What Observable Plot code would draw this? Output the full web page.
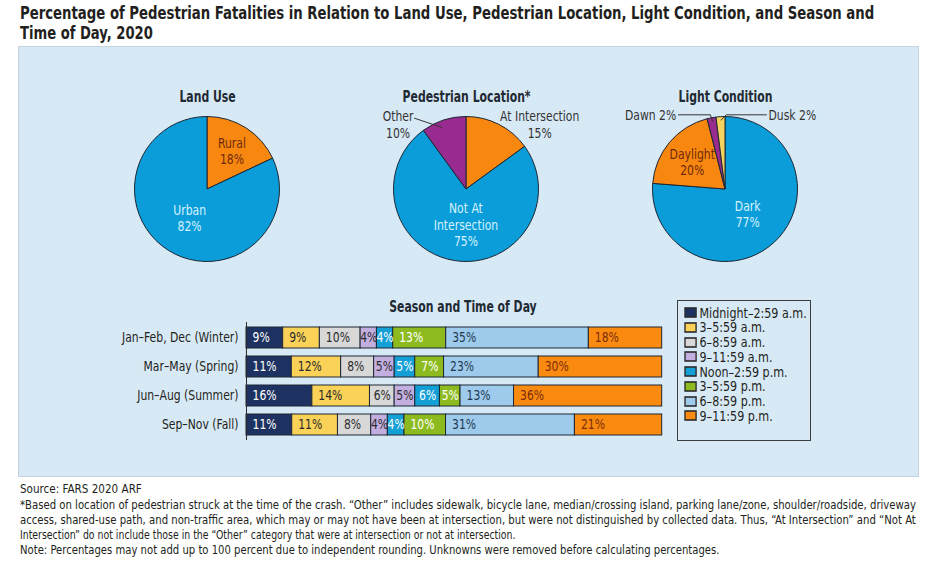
<!DOCTYPE html>
<html><head><meta charset="utf-8">
<script src="https://cdn.jsdelivr.net/npm/d3@7"></script>
<script src="https://cdn.jsdelivr.net/npm/@observablehq/plot@0.6"></script>
<style>
html,body{margin:0;padding:0;background:#fff}
body{position:relative;width:930px;height:572px;overflow:hidden;font-family:"Liberation Sans Narrow","Arial Narrow","DejaVu Sans Condensed",sans-serif;color:#231f20}
.abs{position:absolute}
#panel{left:18px;top:46px;width:899px;height:429px;background:#d8e9f6;border:1px solid #c4d3df}
#bartitle{left:363px;top:298px;width:200px;text-align:center;font-size:15.5px;font-weight:bold;line-height:18px;color:#1f2a33;transform:scaleX(0.78);transform-origin:center}
#legendbox{left:676.5px;top:300px;width:132px;height:139px;border:1px solid #3b3b3b;background:#d8e9f6}
#legend{position:absolute;left:7.5px;top:4.3px;transform:scaleX(0.853);transform-origin:0 0}
#legend > div{font-family:inherit !important;font-size:14.5px !important;color:#231f20 !important;margin:0 !important;}
#legend > div > div{height:14.76px;padding:0 !important;margin:0 !important;display:flex;align-items:center;white-space:nowrap}
#legend svg{margin-right:4px !important;flex-shrink:0}
#legend svg rect{stroke:#2a2a2a;stroke-width:1.6px}
svg.txt text{fill:#231f20}
</style>
</head><body>
<svg class="abs txt" style="left:0;top:0" width="930" height="46">
<text class="fit" data-x="20" data-y="19" data-w="855" font-size="18" font-weight="bold">Percentage of Pedestrian Fatalities in Relation to Land Use, Pedestrian Location, Light Condition, and Season and</text>
<text class="fit" data-x="20" data-y="39" data-w="133" font-size="18" font-weight="bold">Time of Day, 2020</text>
</svg>
<div id="panel" class="abs"></div>
<div id="pie1" class="abs" style="left:77.5px;top:74px"></div>
<div id="pie2" class="abs" style="left:336.5px;top:74px"></div>
<div id="pie3" class="abs" style="left:596.3px;top:74px"></div>
<div id="bartitle" class="abs">Season and Time of Day</div>
<div id="bars" class="abs" style="left:100px;top:295px"></div>
<div id="legendbox" class="abs"><div id="legend"></div></div>
<svg class="abs txt" style="left:0;top:470px" width="930" height="102" font-size="13">
<text class="fit" data-x="20" data-y="22.6" data-w="122">Source: FARS 2020 ARF</text>
<text class="fit" data-x="20" data-y="39" data-w="897">*Based on location of pedestrian struck at the time of the crash. “Other” includes sidewalk, bicycle lane, median/crossing island, parking lane/zone, shoulder/roadside, driveway</text>
<text class="fit" data-x="20" data-y="54" data-w="897">access, shared-use path, and non-traffic area, which may or may not have been at intersection, but were not distinguished by collected data. Thus, “At Intersection” and “Not At</text>
<text class="fit" data-x="20" data-y="69" data-w="496">Intersection” do not include those in the “Other” category that were at intersection or not at intersection.</text>
<text class="fit" data-x="20" data-y="84" data-w="700">Note: Percentages may not add up to 100 percent due to independent rounding. Unknowns were removed before calculating percentages.</text>
</svg>
<script>
// ---------- DATA ----------
const landCats = ["Rural", "Urban"];
const landVals = [18, 82];
const locCats = ["At Intersection", "Not At Intersection", "Other"];
const locVals = [15, 75, 10];
const lightCats = ["Dark", "Daylight", "Dawn", "Dusk"];
const lightVals = [77, 20, 2, 2];

const seasons = ["Jan–Feb, Dec (Winter)", "Mar–May (Spring)", "Jun–Aug (Summer)", "Sep–Nov (Fall)"];
const timeSlots = ["Midnight–2:59 a.m.", "3–5:59 a.m.", "6–8:59 a.m.", "9–11:59 a.m.", "Noon–2:59 p.m.", "3–5:59 p.m.", "6–8:59 p.m.", "9–11:59 p.m."];
const winterVals = [9, 9, 10, 4, 4, 13, 35, 18];
const springVals = [11, 12, 8, 5, 5, 7, 23, 30];
const summerVals = [16, 14, 6, 5, 6, 5, 13, 36];
const fallVals = [11, 11, 8, 4, 4, 10, 31, 21];

// ---------- STYLE ----------
const FONT = '"Liberation Sans Narrow","Arial Narrow","DejaVu Sans Condensed",sans-serif';
const PIE_BLUE = "#0b9dd9", PIE_ORANGE = "#f8870f", PIE_PURPLE = "#982a90", PIE_YELLOW = "#f6d35e";
const DARK_IN = "#6f2a0c", LIGHT_IN = "#d4f2ff", OUT = "#333333";
const slotColors = ["#1e3262", "#fbd258", "#d8d8d8", "#c3aee0", "#14a0d6", "#8dbb1f", "#9ecbec", "#fb8a10"];
const slotText = ["#ffffff", "#2b2b2b", "#2b2b2b", "#2b2b2b", "#ffffff", "#ffffff", "#233a52", "#7a2e0a"];
const baseStyle = {background: "transparent", fontFamily: FONT, fontSize: "14px", color: "#231f20", overflow: "visible"};
const NARROW = 0.86, NARROW_BOLD = 0.78;

// fit static lines (title, notes) to the reference widths by horizontal scaling
document.querySelectorAll("text.fit").forEach(t => {
  const n = t.getComputedTextLength();
  const s = (+t.dataset.w) / n;
  t.setAttribute("transform", `translate(${t.dataset.x},${t.dataset.y}) scale(${s},1)`);
});

// horizontally condense each text about its own anchor (the installed condensed face is wider than the original)
function condense(root) {
  root.querySelectorAll("text").forEach(t => {
    const b = t.getBBox();
    const cs = getComputedStyle(t);
    const f = (parseInt(cs.fontWeight) >= 600 || cs.fontWeight === "bold") ? NARROW_BOLD : NARROW;
    const anc = cs.textAnchor;
    const ax = anc === "middle" ? b.x + b.width / 2 : anc === "end" ? b.x + b.width : b.x;
    const tr = t.getAttribute("transform") || "";
    t.setAttribute("transform", `${tr} translate(${ax},0) scale(${f},1) translate(${-ax},0)`);
  });
}

// ---------- PIES ----------
function pieChart({title, cats, vals, colors, labels, leaders = []}) {
  const W = 258, H = 230, K = 72.5;
  const arcs = d3.pie().sort(null).value(d => d)(vals);
  const mid = a => (a.startAngle + a.endAngle) / 2;
  const polar = (ang, f) => ({x: f * Math.sin(ang), y: f * Math.cos(ang)});
  const slices = (index, scales, values, dim) => {
    const cx = scales.x ? scales.x(0) : dim.width / 2;
    const cy = scales.y ? scales.y(0) : dim.height / 2;
    const r = scales.x ? Math.abs(scales.x(1) - scales.x(0)) : K;
    const arc = d3.arc().innerRadius(0).outerRadius(r);
    const g = d3.create("svg:g").attr("transform", `translate(${cx},${cy})`);
    g.selectAll("path").data(arcs).join("path")
      .attr("d", arc).attr("fill", (d, i) => colors[i])
      .attr("stroke", "#1c2733").attr("stroke-width", 1).attr("stroke-linejoin", "round");
    return g.node();
  };
  const texts = labels.map(L => {
    const p = L.frac != null ? polar(mid(arcs[L.i]), L.frac) : L.at;
    return Plot.text([{x: p.x, y: p.y, t: L.fmt(cats[L.i], vals[L.i])}], {
      x: "x", y: "y", text: "t", fill: L.fill, textAnchor: L.anchor || "middle",
      dx: L.dx || 0, fontSize: 14, lineHeight: 1.17
    });
  });
  const leaderPts = leaders.flatMap((Ld, k) => {
    const a = arcs[Ld.i];
    const p = polar(a.startAngle + Ld.t * (a.endAngle - a.startAngle), Ld.frac);
    const pts = [{x: Ld.from.x, y: Ld.from.y}];
    if (Ld.elbow != null) pts.push({x: p.x + Ld.elbow, y: Ld.from.y});
    pts.push(p);
    return pts.map(q => ({...q, k}));
  });
  return Plot.plot({
    width: W, height: H, margin: 0,
    x: {domain: [-W / 2 / K, W / 2 / K], axis: null},
    y: {domain: [-H / 2 / K, H / 2 / K], axis: null},
    style: baseStyle,
    marks: [
      slices,
      ...texts,
      Plot.line(leaderPts, {x: "x", y: "y", z: "k", stroke: OUT, strokeWidth: 1}),
      Plot.text([title], {text: d => d, frameAnchor: "top", dy: 16, fontWeight: "bold", fontSize: 15.5, fill: "#1f2a33"})
    ]
  });
}
const twoLine = (c, v) => `${c}\n${v}%`;

const pies = [
  ["pie1", {
    title: "Land Use", cats: landCats, vals: landVals, colors: [PIE_ORANGE, PIE_BLUE],
    labels: [
      {i: 0, frac: 0.63, fmt: twoLine, fill: DARK_IN},
      {i: 1, frac: 0.46, fmt: twoLine, fill: LIGHT_IN}
    ]
  }],
  ["pie2", {
    title: "Pedestrian Location*", cats: locCats, vals: locVals, colors: [PIE_ORANGE, PIE_BLUE, PIE_PURPLE],
    labels: [
      {i: 0, at: {x: 1.01, y: 0.899}, fmt: twoLine, fill: OUT},
      {i: 1, frac: 0.49, dx: 5, fmt: (c, v) => `${c.replace(" Intersection", "\nIntersection")}\n${v}%`, fill: LIGHT_IN},
      {i: 2, at: {x: -0.945, y: 0.899}, fmt: twoLine, fill: OUT}
    ],
    leaders: [{i: 2, t: 0.4, frac: 0.92, from: {x: -0.717, y: 0.983}}]
  }],
  ["pie3", {
    title: "Light Condition", cats: lightCats, vals: lightVals, colors: [PIE_BLUE, PIE_ORANGE, PIE_PURPLE, PIE_YELLOW],
    labels: [
      {i: 0, frac: 0.45, fmt: twoLine, fill: LIGHT_IN},
      {i: 1, frac: 0.6, fmt: twoLine, fill: DARK_IN},
      {i: 2, at: {x: -0.68, y: 1.03}, anchor: "end", fmt: (c, v) => `${c} ${v}%`, fill: OUT},
      {i: 3, at: {x: 0.593, y: 1.03}, anchor: "start", fmt: (c, v) => `${c} ${v}%`, fill: OUT}
    ],
    leaders: [
      {i: 2, t: 0.5, frac: 0.96, from: {x: -0.65, y: 1.03}, elbow: -0.03},
      {i: 3, t: 0.5, frac: 0.96, from: {x: 0.565, y: 1.03}, elbow: 0.07}
    ]
  }]
];
for (const [id, spec] of pies) {
  const el = document.getElementById(id);
  el.append(pieChart(spec));
  condense(el);
}

// ---------- STACKED BARS ----------
const seasonVals = [winterVals, springVals, summerVals, fallVals];
const rows = seasons.flatMap((s, i) => seasonVals[i].map((v, j) => ({season: s, slot: timeSlots[j], value: v, j})));
const stackOpts = {x: "value", y: "season", offset: "normalize"};
const textMarks = [];
for (const c of new Set(slotText)) {
  for (const start of [true, false]) {
    const tf = start ? Plot.stackX1 : Plot.stackX;
    textMarks.push(Plot.text(rows, tf({
      ...stackOpts,
      text: d => (slotText[d.j] === c && (d.value >= 7) === start) ? `${d.value}%` : null,
      textAnchor: start ? "start" : "middle", dx: start ? 6 : 0, fill: c, fontSize: 14
    })));
  }
}
const barsEl = document.getElementById("bars");
barsEl.append(Plot.plot({
  width: 580, height: 150, marginLeft: 146, marginRight: 18.3, marginTop: 27, marginBottom: 5,
  x: {axis: null, domain: [0, 1]},
  y: {domain: seasons, label: null, tickSize: 0, tickPadding: 8, paddingInner: 0.27, paddingOuter: 0.135},
  color: {domain: timeSlots, range: slotColors},
  style: baseStyle,
  marks: [
    Plot.barX(rows, Plot.stackX({...stackOpts, fill: "slot", stroke: "#1c2733", strokeWidth: 1})),
    ...textMarks,
    Plot.ruleX([0], {stroke: "#2b2b2b", strokeWidth: 1})
  ]
}));
condense(barsEl);

document.getElementById("legend").append(Plot.legend({
  color: {domain: timeSlots, range: slotColors},
  columns: 1, swatchWidth: 13, swatchHeight: 9, className: "lg"
}));
</script>
</body></html>
